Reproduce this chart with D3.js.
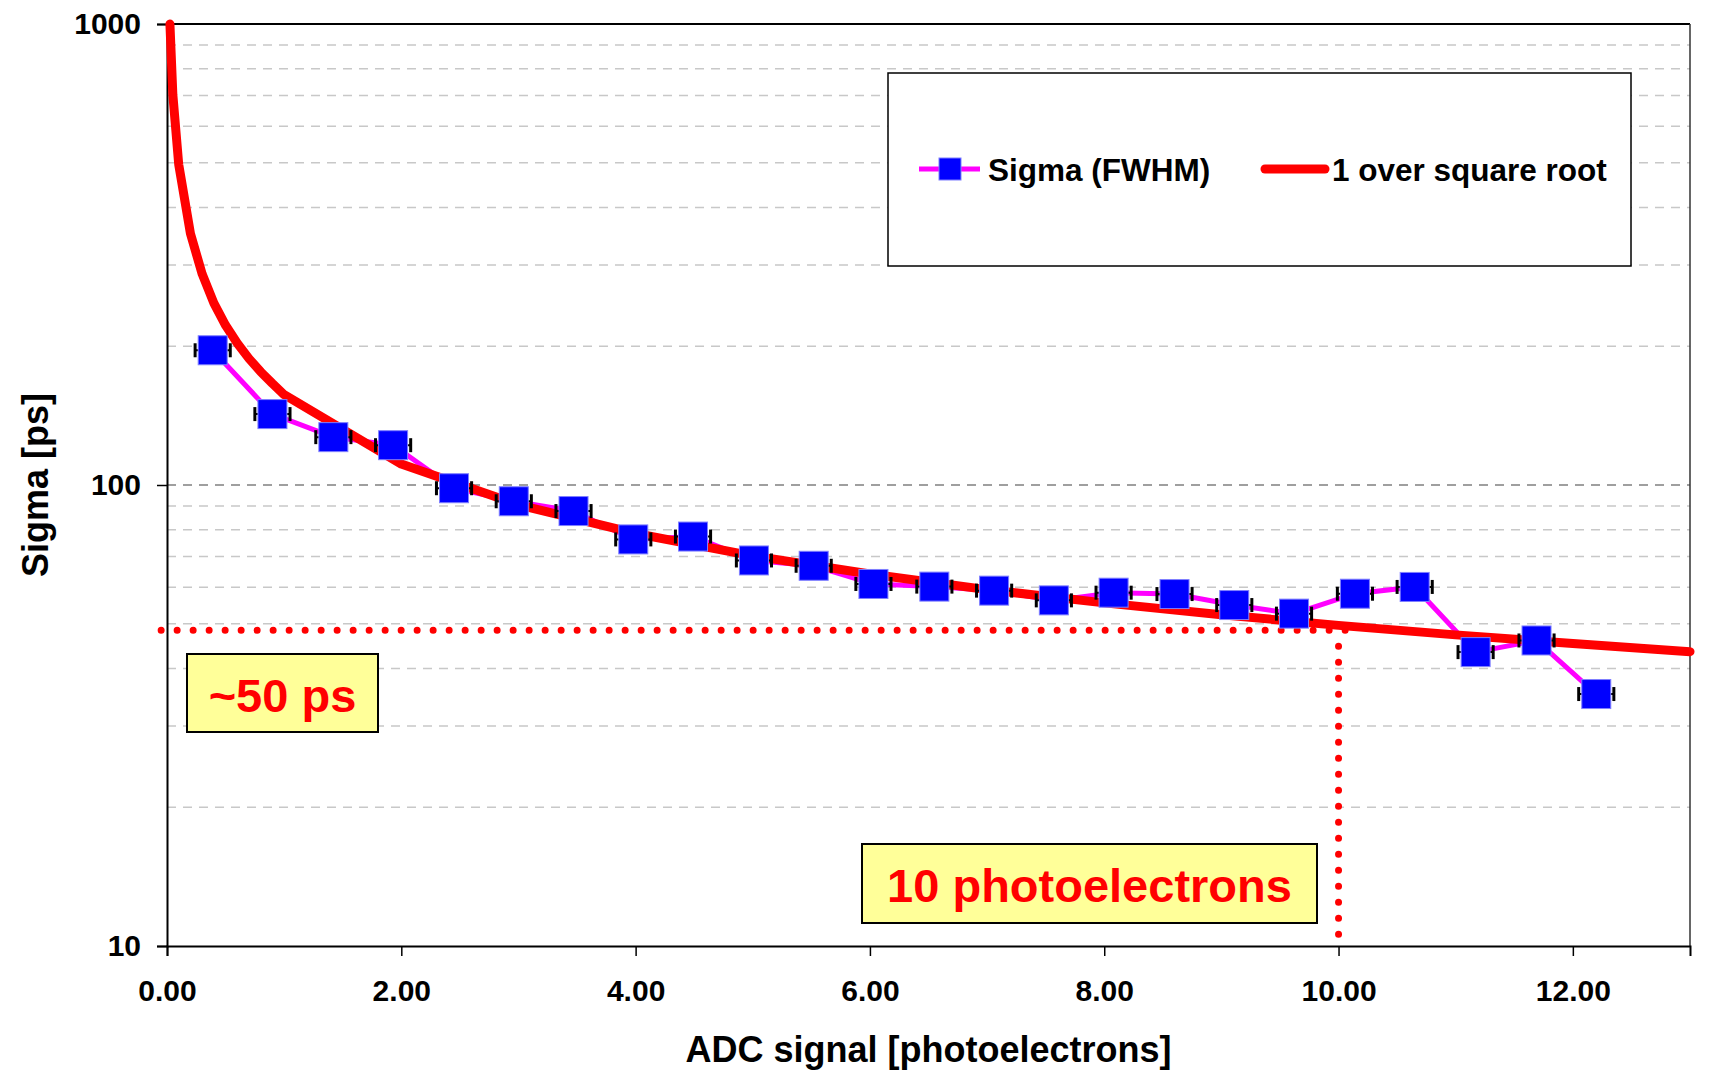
<!DOCTYPE html>
<html><head><meta charset="utf-8">
<script src="https://cdn.jsdelivr.net/npm/d3@7"></script>
<style>body{margin:0;background:#fff}svg{display:block}text{font-family:"Liberation Sans",Arial,sans-serif;font-weight:bold}</style>
</head><body><svg id="c" width="1711" height="1077"></svg>
<script>
// ---- data ----
const adcSignal = [0.39, 0.90, 1.42, 1.93, 2.45, 2.96, 3.47, 3.98, 4.49, 5.01, 5.52, 6.03, 6.55, 7.06, 7.57, 8.08, 8.60, 9.11, 9.62, 10.14, 10.65, 11.17, 11.69, 12.20];
const sigmaFWHM = [196, 142.5, 127, 122, 98.4, 92.2, 87.8, 76.2, 77.3, 68.6, 66.8, 61.0, 60.2, 59.0, 56.2, 58.4, 58.0, 54.9, 52.6, 58.1, 60.1, 43.4, 46.0, 35.2];
const adcError = [0.15, 0.15, 0.15, 0.15, 0.15, 0.15, 0.15, 0.15, 0.15, 0.15, 0.15, 0.15, 0.15, 0.15, 0.15, 0.15, 0.15, 0.15, 0.15, 0.15, 0.15, 0.15, 0.15, 0.15];
const fitX = [0.025, 0.05, 0.1, 0.2, 0.3, 0.4, 0.5, 0.6, 0.7, 0.8, 0.9, 1, 2, 3, 4, 5, 6, 7, 8, 9, 10, 11, 12, 13];
const fitY = [1000, 702, 496, 351, 287, 248, 222, 203, 188, 176, 166, 157, 111, 90.6, 78.5, 70.2, 64.1, 59.3, 55.5, 52.3, 49.6, 47.3, 45.3, 43.5];
const xTicks = [0, 2, 4, 6, 8, 10, 12];
const yTicks = [10, 100, 1000];
const yMinorGrid = [20, 30, 40, 50, 60, 70, 80, 90, 200, 300, 400, 500, 600, 700, 800, 900];
const refSigma = 48.4;
const refSignal = 10;
const seriesNames = ["Sigma (FWHM)", "1 over square root"];
const annotations = ["~50 ps", "10 photoelectrons"];
const xTitle = "ADC signal [photoelectrons]";
const yTitle = "Sigma [ps]";

// ---- layout ----
const L = 167, R = 1690, T = 24, B = 946;
const svg = d3.select("#c");
const x = d3.scaleLinear().domain([0, 13]).range([L, R]);
const y = d3.scaleLog().domain([10, 1000]).range([B, T]);

// grid
svg.append("g").selectAll("line").data(yMinorGrid).join("line")
  .attr("x1", L).attr("x2", R).attr("y1", d => y(d)).attr("y2", d => y(d))
  .attr("stroke", "#c8c8c8").attr("stroke-width", 1.5).attr("stroke-dasharray", "9,7");
svg.append("line").attr("x1", L).attr("x2", R).attr("y1", y(100)).attr("y2", y(100))
  .attr("stroke", "#808080").attr("stroke-width", 1.5).attr("stroke-dasharray", "9,7");

// plot border top/right
svg.append("line").attr("x1", L).attr("x2", R).attr("y1", y(1000)).attr("y2", y(1000)).attr("stroke", "#000").attr("stroke-width", 2);
svg.append("line").attr("x1", R).attr("x2", R).attr("y1", T).attr("y2", B).attr("stroke", "#333").attr("stroke-width", 1.5);

// axes
const xAxis = d3.axisBottom(x).tickValues(xTicks).tickFormat(d3.format(".2f")).tickSize(10).tickPadding(24);
const gx = svg.append("g").attr("transform", `translate(0,${B})`).call(xAxis);
gx.select(".domain").attr("stroke", "#000").attr("stroke-width", 2);
gx.selectAll(".tick line").attr("stroke", "#000").attr("stroke-width", 1.5);
gx.selectAll("text").attr("font-size", 30).attr("fill", "#000").attr("font-family", "Liberation Sans, Arial, sans-serif").attr("font-weight", "bold");

const yAxis = d3.axisLeft(y).tickValues(yTicks).tickFormat(d3.format("d")).tickSize(10).tickPadding(16);
const gy = svg.append("g").attr("transform", `translate(${L},0)`).call(yAxis);
gy.select(".domain").attr("stroke", "#000").attr("stroke-width", 2);
gy.selectAll(".tick line").attr("stroke", "#000").attr("stroke-width", 1.5);
gy.selectAll("text").attr("font-size", 30).attr("fill", "#000").attr("font-family", "Liberation Sans, Arial, sans-serif").attr("font-weight", "bold");

// axis titles
svg.append("text").attr("x", (L + R) / 2).attr("y", 1062).attr("text-anchor", "middle").attr("font-size", 36).text(xTitle);
svg.append("text").attr("transform", `translate(48,${(T + B) / 2}) rotate(-90)`).attr("text-anchor", "middle").attr("font-size", 36).text(yTitle);

// dotted reference lines
svg.append("line").attr("x1", x(-0.05)).attr("x2", x(refSignal + 0.07)).attr("y1", y(refSigma)).attr("y2", y(refSigma))
  .attr("stroke", "#ff0000").attr("stroke-width", 7).attr("stroke-linecap", "round").attr("stroke-dasharray", "0,16");
svg.append("line").attr("x1", x(refSignal)).attr("x2", x(refSignal)).attr("y1", y(refSigma) + 16).attr("y2", B)
  .attr("stroke", "#ff0000").attr("stroke-width", 7).attr("stroke-linecap", "round").attr("stroke-dasharray", "0,16");

// data series
const pts = adcSignal.map((v, i) => ({x: v, y: sigmaFWHM[i], e: adcError[i]}));
svg.append("path").datum(pts)
  .attr("d", d3.line().x(d => x(d.x)).y(d => y(d.y)))
  .attr("fill", "none").attr("stroke", "#ff00ff").attr("stroke-width", 5);

const fit = fitX.map((v, i) => ({x: v, y: fitY[i]}));
svg.append("path").datum(fit)
  .attr("d", d3.line().x(d => x(d.x)).y(d => y(d.y)))
  .attr("fill", "none").attr("stroke", "#ff0000").attr("stroke-width", 9).attr("stroke-linejoin", "round").attr("stroke-linecap", "round");

// error bars
const eb = svg.append("g").attr("stroke", "#000").attr("stroke-width", 2);
pts.forEach(d => {
  eb.append("line").attr("x1", x(d.x - d.e)).attr("x2", x(d.x + d.e)).attr("y1", y(d.y)).attr("y2", y(d.y));
  eb.append("line").attr("x1", x(d.x - d.e)).attr("x2", x(d.x - d.e)).attr("y1", y(d.y) - 7).attr("y2", y(d.y) + 7).attr("stroke-width", 3);
  eb.append("line").attr("x1", x(d.x + d.e)).attr("x2", x(d.x + d.e)).attr("y1", y(d.y) - 7).attr("y2", y(d.y) + 7).attr("stroke-width", 3);
});

// markers
const ms = 29;
svg.append("g").selectAll("rect").data(pts).join("rect")
  .attr("x", d => x(d.x) - ms / 2).attr("y", d => y(d.y) - ms / 2).attr("width", ms).attr("height", ms)
  .attr("fill", "#0000ff").attr("stroke", "#7f7fff").attr("stroke-width", 1);

// legend
svg.append("rect").attr("x", 888).attr("y", 73).attr("width", 743).attr("height", 193)
  .attr("fill", "#fff").attr("stroke", "#000").attr("stroke-width", 1.5);
const ly = 169;
svg.append("line").attr("x1", 919).attr("x2", 980).attr("y1", ly).attr("y2", ly).attr("stroke", "#ff00ff").attr("stroke-width", 5);
svg.append("rect").attr("x", 939).attr("y", ly - 11).attr("width", 22).attr("height", 22).attr("fill", "#0000ff").attr("stroke", "#7f7fff").attr("stroke-width", 1);
svg.append("text").attr("x", 988).attr("y", ly + 12).attr("font-size", 31.5).text(seriesNames[0]);
svg.append("line").attr("x1", 1265).attr("x2", 1325).attr("y1", ly).attr("y2", ly).attr("stroke", "#ff0000").attr("stroke-width", 9).attr("stroke-linecap", "round");
svg.append("text").attr("x", 1332).attr("y", ly + 12).attr("font-size", 31.5).text(seriesNames[1]);

// annotation boxes
function noteBox(x0, y0, w, h, label, baseline) {
  svg.append("rect").attr("x", x0).attr("y", y0).attr("width", w).attr("height", h)
    .attr("fill", "#ffff99").attr("stroke", "#000").attr("stroke-width", 2);
  svg.append("text").attr("x", x0 + w / 2).attr("y", baseline).attr("text-anchor", "middle")
    .attr("font-size", 47).attr("fill", "#ff0000").text(label);
}
noteBox(187, 654, 191, 78, annotations[0], 712);
noteBox(862, 844, 455, 79, annotations[1], 902);
</script></body></html>
